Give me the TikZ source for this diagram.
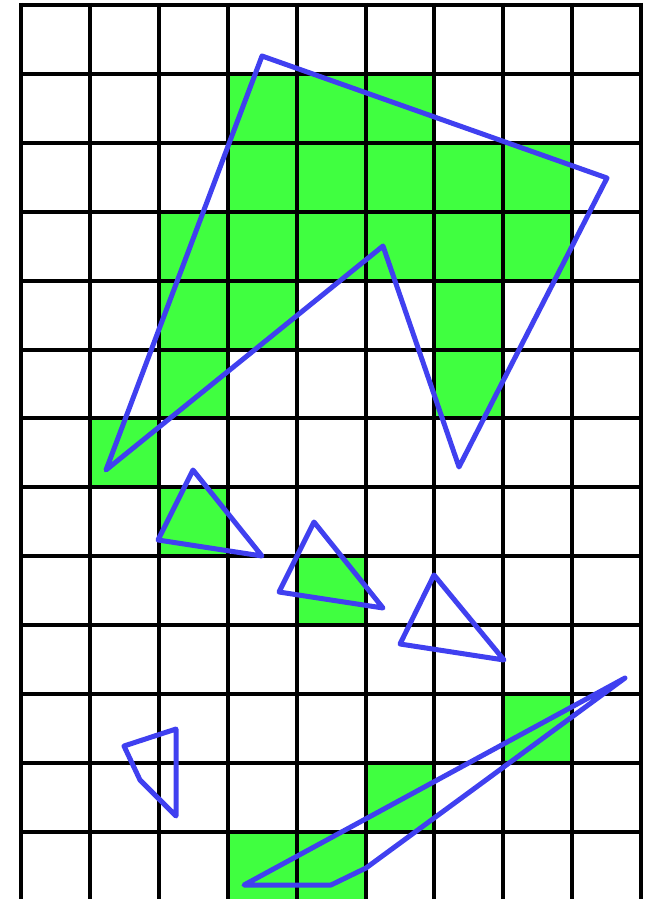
\documentclass[tikz,border=0pt]{standalone}
\definecolor{cellgreen}{RGB}{64,255,64}
\definecolor{polyblue}{RGB}{64,64,240}
\begin{document}
\begin{tikzpicture}[x=1pt,y=-1pt,
  gridline/.style={black,line width=4pt},
  greencell/.style={fill=cellgreen},
  poly/.style={polyblue,line width=5pt,line join=round,line cap=round}]
\useasboundingbox (0,0) rectangle (646,899);
\clip (0,0) rectangle (646,899);
\def\s{68.9}
\foreach \c/\r in {3/1,4/1,5/1,
                   3/2,4/2,5/2,6/2,7/2,
                   2/3,3/3,4/3,5/3,6/3,7/3,
                   2/4,3/4,6/4,
                   2/5,6/5,
                   1/6,
                   2/7,
                   4/8,
                   7/10,
                   5/11,
                   3/12,4/12}
  \fill[greencell] ({21+\c*\s},{5+\r*\s}) rectangle ++(\s,\s);
\foreach \i in {0,...,9}
  \draw[gridline] ({21+\i*\s},3) -- ({21+\i*\s},905);
\foreach \j in {0,...,13}
  \draw[gridline] (19,{5+\j*\s}) -- (643,{5+\j*\s});
% polygons
\draw[poly] (262,56) -- (607,178) -- (459,467) -- (383,246) -- (106,470) -- cycle;
\draw[poly] (193,470) -- (262,556) -- (158,540) -- cycle;
\draw[poly] (314,522) -- (383,608) -- (279,592) -- cycle;
\draw[poly] (434,575) -- (504,660) -- (400,644) -- cycle;
\draw[poly] (124,746) -- (176,729) -- (176,816) -- (140,780) -- cycle;
\draw[poly] (625,678) -- (366,868) -- (331,885) -- (244,885) -- cycle;
\end{tikzpicture}
\end{document}
